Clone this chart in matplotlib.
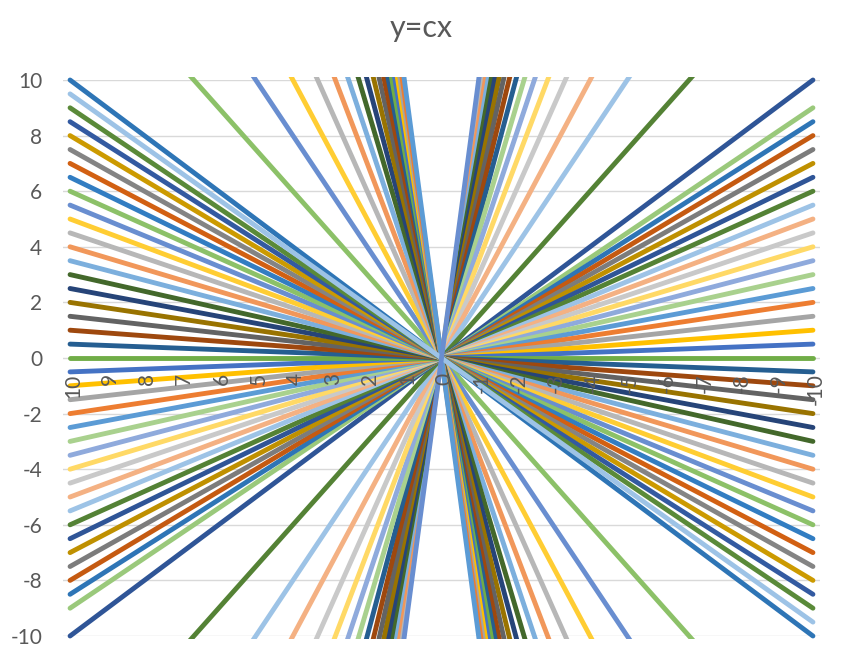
import colorsys
import matplotlib
matplotlib.use("Agg")
import matplotlib.pyplot as plt
from matplotlib.patches import Rectangle

# ---- data ----
categories = [10, 9, 8, 7, 6, 5, 4, 3, 2, 1, 0, -1, -2, -3, -4, -5, -6, -7, -8, -9, -10]
category_labels = [str(v) for v in categories]

c_values = [-10, -9.5, -9, -8.5, -8, -7.5, -7, -6.5, -6, -5.5, -5, -4.5, -4, -3.5, -3,
            -2.5, -2, -1.5, -1, -0.9, -0.85, -0.8, -0.75, -0.7, -0.65, -0.6, -0.55,
            -0.5, -0.45, -0.4, -0.35, -0.3, -0.25, -0.2, -0.15, -0.1, -0.05, 0,
            0.05, 0.1, 0.15, 0.2, 0.25, 0.3, 0.35, 0.4, 0.45, 0.5, 0.55, 0.6, 0.65,
            0.7, 0.75, 0.8, 0.85, 0.9, 0.95, 1, 1.5, 2, 2.5, 3, 3.5, 4, 4.5, 5, 5.5,
            6, 6.5, 7, 7.5, 8, 8.5, 9, 9.5, 10]

# colour of each series: (accent index, shade group)
series_accent = [1, 4, 3, 2, 5, 6, 1, 4, 3, 2, 5, 6, 1, 4, 3,
                 2, 5, 6, 1, 6, 5, 2, 3, 4, 1, 6, 5,
                 2, 3, 4, 1, 6, 5, 2, 3, 4, 1, 6,
                 5, 2, 3, 4, 1, 6, 5, 2, 3, 4, 1, 6, 5,
                 2, 3, 4, 1, 6, 5, 5, 6, 1, 4, 3, 2, 5, 6, 1, 4,
                 3, 2, 5, 6, 1, 4, 3, 2, 5]
series_shade = ["L2", "L2", "L2", "L2", "L2", "D6", "D6", "D6", "D6", "D6", "D6", "L4", "L4", "L4", "L4",
                "L4", "L4", "D75", "D75", "L3", "D75", "D75", "D75", "D75", "D75", "D75", "L4",
                "L4", "L4", "L4", "L4", "L4", "B", "B", "B", "B", "B", "B",
                "D6", "D6", "D6", "D6", "D6", "D6", "L2", "L2", "L2", "L2", "L2", "L2", "D8",
                "D8", "D8", "D8", "D8", "D8", "L4", "D75", "L2", "L2", "L2", "L2", "L2", "L2", "D6", "D6", "D6",
                "D6", "D6", "D6", "B", "B", "B", "B", "B", "B"]

accents = {1: "#4472C4", 2: "#ED7D31", 3: "#A5A5A5", 4: "#FFC000", 5: "#5B9BD5", 6: "#70AD47"}
shades = {"B": (1.0, 0.0), "D6": (0.6, 0.0), "L2": (0.8, 0.2), "D8": (0.8, 0.0),
          "L4": (0.6, 0.4), "D75": (0.75, 0.0), "L3": (0.7, 0.3)}


def shade(hexcol, mod, off):
    r, g, b = (int(hexcol[i:i + 2], 16) / 255 for i in (1, 3, 5))
    h, l, s = colorsys.rgb_to_hls(r, g, b)
    l = min(1.0, l * mod + off)
    return colorsys.hls_to_rgb(h, l, s)


colors = [shade(accents[a], *shades[g]) for a, g in zip(series_accent, series_shade)]

# ---- figure ----
W, H = 843, 663
fig = plt.figure(figsize=(W / 100, H / 100), dpi=100)
fig.patch.set_facecolor("white")
ax = fig.add_axes([63 / W, 1 - 636 / H, (820 - 63) / W, (636 - 80) / H])
ax.set_xlim(10.19, -10.19)
ax.set_ylim(-10, 10)
for s in ax.spines.values():
    s.set_visible(False)

yt = list(range(-10, 11, 2))
for v in yt:
    ax.axhline(v, color="#D9D9D9", lw=1.0, zorder=0)
ax.set_yticks(yt)
ax.set_yticklabels([str(v) for v in yt], fontsize=15, color="#595959", family="Lato")
ax.tick_params(axis="y", length=0, pad=15)
ax.set_xticks([])

clip = Rectangle((-10.19, -10.12), 20.38, 20.24, transform=ax.transData)

order = list(range(len(c_values)))
# series visibly drawn on top near the centre
for c_top in (0.95, -10):
    i = c_values.index(c_top)
    order.remove(i)
    order.append(i)

for z, i in enumerate(order):
    c = c_values[i]
    ys = [c * x for x in categories]
    ln, = ax.plot(categories, ys, color=colors[i], lw=3.5, solid_capstyle="round",
                  solid_joinstyle="round", zorder=2 + z * 0.01)
    ln.set_clip_path(clip)

for x, lab in zip(categories, category_labels):
    ax.annotate(lab, xy=(x, 0), xytext=(2, -11), textcoords="offset points",
                rotation=90, ha="center", va="top", fontsize=15, color="#595959",
                family="Lato", zorder=10, annotation_clip=False)

fig.text(0.5, 1 - 28 / H, "y=cx", ha="center", va="center", fontsize=22,
         color="#595959", family="Lato")

fig.savefig("out.png", dpi=100)
